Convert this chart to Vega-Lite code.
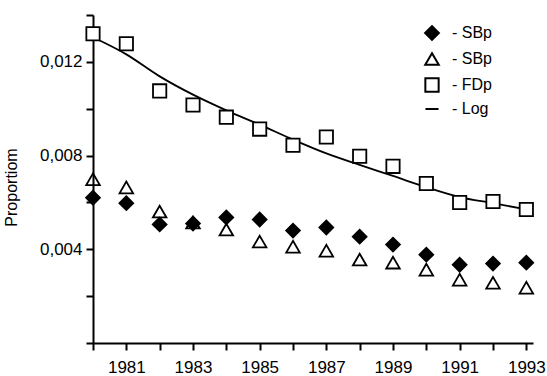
{
  "$schema": "https://vega.github.io/schema/vega-lite/v6.json",
  "width": 440,
  "height": 328,
  "autosize": {"type": "none"},
  "padding": {"left": 93, "top": 15, "right": 14, "bottom": 33},
  "background": "white",
  "config": {
    "view": {"stroke": null},
    "font": "Liberation Sans",
    "axis": {
      "domainColor": "black", "domainWidth": 2,
      "tickColor": "black", "tickWidth": 2, "tickSize": 7,
      "labelColor": "black", "labelFontSize": 17, "labelFont": "Liberation Sans",
      "titleFont": "Liberation Sans", "titleFontSize": 16, "titleFontWeight": "normal", "titleColor": "black",
      "grid": false
    },
    "legend": {
      "title": null,
      "labelFontSize": 16, "labelColor": "black", "labelFont": "Liberation Sans",
      "labelOffset": 12, "rowPadding": 5, "padding": 0,
      "symbolStrokeColor": "black", "symbolStrokeWidth": 2, "symbolOpacity": 1
    }
  },
  "datasets": {
    "fit": [
      {"year": 1980, "value": 0.01305},
      {"year": 1981, "value": 0.01232},
      {"year": 1982, "value": 0.01138},
      {"year": 1983, "value": 0.01060},
      {"year": 1984, "value": 0.00993},
      {"year": 1985, "value": 0.00932},
      {"year": 1986, "value": 0.00868},
      {"year": 1987, "value": 0.00809},
      {"year": 1988, "value": 0.00760},
      {"year": 1989, "value": 0.00713},
      {"year": 1990, "value": 0.00665},
      {"year": 1991, "value": 0.00623},
      {"year": 1992, "value": 0.00597},
      {"year": 1993, "value": 0.00570}
    ],
    "points": [
      {"year": 1980, "series": "SBp1", "value": 0.0062},
      {"year": 1981, "series": "SBp1", "value": 0.00597},
      {"year": 1982, "series": "SBp1", "value": 0.00506},
      {"year": 1983, "series": "SBp1", "value": 0.0051},
      {"year": 1984, "series": "SBp1", "value": 0.00536},
      {"year": 1985, "series": "SBp1", "value": 0.00527},
      {"year": 1986, "series": "SBp1", "value": 0.0048},
      {"year": 1987, "series": "SBp1", "value": 0.00493},
      {"year": 1988, "series": "SBp1", "value": 0.00454},
      {"year": 1989, "series": "SBp1", "value": 0.0042},
      {"year": 1990, "series": "SBp1", "value": 0.00377},
      {"year": 1991, "series": "SBp1", "value": 0.00334},
      {"year": 1992, "series": "SBp1", "value": 0.00339},
      {"year": 1993, "series": "SBp1", "value": 0.00343},
      {"year": 1980, "series": "SBp2", "value": 0.00699},
      {"year": 1981, "series": "SBp2", "value": 0.00664},
      {"year": 1982, "series": "SBp2", "value": 0.00561},
      {"year": 1983, "series": "SBp2", "value": 0.00514},
      {"year": 1984, "series": "SBp2", "value": 0.00484},
      {"year": 1985, "series": "SBp2", "value": 0.00433},
      {"year": 1986, "series": "SBp2", "value": 0.00411},
      {"year": 1987, "series": "SBp2", "value": 0.00394},
      {"year": 1988, "series": "SBp2", "value": 0.00356},
      {"year": 1989, "series": "SBp2", "value": 0.00343},
      {"year": 1990, "series": "SBp2", "value": 0.00313},
      {"year": 1991, "series": "SBp2", "value": 0.0027},
      {"year": 1992, "series": "SBp2", "value": 0.00257},
      {"year": 1993, "series": "SBp2", "value": 0.00236},
      {"year": 1980, "series": "FDp", "value": 0.0132},
      {"year": 1981, "series": "FDp", "value": 0.01277},
      {"year": 1982, "series": "FDp", "value": 0.01076},
      {"year": 1983, "series": "FDp", "value": 0.01016},
      {"year": 1984, "series": "FDp", "value": 0.00964},
      {"year": 1985, "series": "FDp", "value": 0.00913},
      {"year": 1986, "series": "FDp", "value": 0.00844},
      {"year": 1987, "series": "FDp", "value": 0.00879},
      {"year": 1988, "series": "FDp", "value": 0.00797},
      {"year": 1989, "series": "FDp", "value": 0.00754},
      {"year": 1990, "series": "FDp", "value": 0.00681},
      {"year": 1991, "series": "FDp", "value": 0.0060},
      {"year": 1992, "series": "FDp", "value": 0.00604},
      {"year": 1993, "series": "FDp", "value": 0.0057}
    ]
  },
  "encoding": {
    "x": {
      "field": "year", "type": "quantitative",
      "scale": {"domain": [1980, 1993.2], "nice": false, "zero": false},
      "axis": {
        "values": [1980, 1981, 1982, 1983, 1984, 1985, 1986, 1987, 1988, 1989, 1990, 1991, 1992, 1993],
        "labelExpr": "datum.value % 2 == 1 ? datum.value : ''",
        "title": null, "labelPadding": 9, "labelFlush": false, "labelOverlap": false
      }
    },
    "y": {
      "field": "value", "type": "quantitative",
      "scale": {"domain": [0, 0.014], "nice": false},
      "axis": {
        "values": [0, 0.002, 0.004, 0.006, 0.008, 0.010, 0.012, 0.014],
        "labelExpr": "(datum.value > 0.001 && round(datum.value*1000) % 4 == 0) ? replace(format(datum.value, '.3f'), '.', ',') : ''",
        "title": "Proportiom", "labelPadding": 4, "titlePadding": 20, "titleY": 172, "labelOverlap": false
      }
    }
  },
  "layer": [
    {
      "data": {"name": "fit"},
      "mark": {"type": "line", "color": "black", "strokeWidth": 1.8, "interpolate": "monotone"},
      "encoding": {}
    },
    {
      "data": {"name": "points"},
      "mark": {"type": "point", "filled": true, "stroke": "black", "strokeWidth": 1.8, "opacity": 1},
      "encoding": {
        "shape": {
          "field": "series", "type": "nominal",
          "scale": {"domain": ["SBp1", "SBp2", "FDp", "Log"], "range": ["diamond", "triangle-up", "square", "stroke"]},
          "legend": {
            "orient": "none", "legendX": 331, "legendY": 10,
            "labelExpr": "(datum.value == 'SBp1' || datum.value == 'SBp2') ? '- SBp' : '- ' + datum.value",
            "encode": {"symbols": {"update": {"stroke": {"value": "black"}, "strokeWidth": {"value": 2}, "opacity": {"value": 1}}}}
          }
        },
        "fill": {
          "field": "series", "type": "nominal",
          "scale": {"domain": ["SBp1", "SBp2", "FDp", "Log"], "range": ["black", "transparent", "white", "black"]},
          "legend": {
            "orient": "none", "legendX": 331, "legendY": 10,
            "labelExpr": "(datum.value == 'SBp1' || datum.value == 'SBp2') ? '- SBp' : '- ' + datum.value",
            "encode": {"symbols": {"update": {"stroke": {"value": "black"}, "strokeWidth": {"value": 2}, "opacity": {"value": 1}}}}
          }
        },
        "size": {
          "field": "series", "type": "nominal",
          "scale": {"domain": ["SBp1", "SBp2", "FDp", "Log"], "range": [190, 170, 200, 560]},
          "legend": {
            "orient": "none", "legendX": 331, "legendY": 10,
            "labelExpr": "(datum.value == 'SBp1' || datum.value == 'SBp2') ? '- SBp' : '- ' + datum.value",
            "encode": {"symbols": {"update": {"stroke": {"value": "black"}, "strokeWidth": {"value": 2}, "opacity": {"value": 1}}}}
          }
        }
      }
    }
  ]
}
